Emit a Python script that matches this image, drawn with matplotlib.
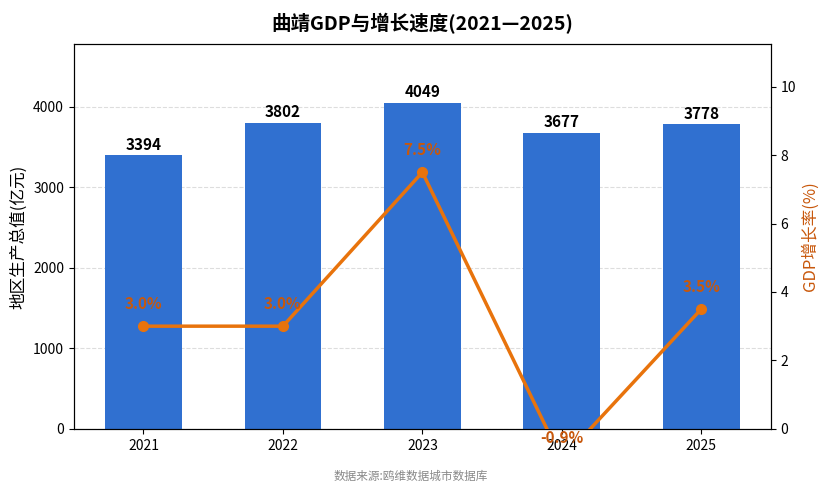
import matplotlib
matplotlib.use("Agg")
import matplotlib.pyplot as plt

plt.rcParams["font.family"] = ["Noto Sans CJK SC", "DejaVu Sans"]
plt.rcParams["axes.unicode_minus"] = False

BLUE = "#3070D0"; ORANGE = "#E8730C"; DARK_OR = "#C8580C"; GREY = "#888888"

years = ["2021", "2022", "2023", "2024", "2025"]
gdp = [3394, 3802, 4049, 3677, 3778]
growth = [3.0, 3.0, 7.5, -0.9, 3.5]

fig, ax = plt.subplots(figsize=(8.29, 4.94), dpi=100)
fig.subplots_adjust(left=0.089, right=0.930, top=0.911, bottom=0.132)

x = list(range(len(years)))
ax.bar(x, gdp, width=0.55, color=BLUE, zorder=2)
for xi, v in zip(x, gdp):
    ax.annotate(f"{v}", (xi, v), xytext=(0, 2), textcoords="offset points",
                ha="center", va="bottom", fontsize=11, fontweight="bold")
ax.set_xlim(-0.5, len(years) - 0.5)
ax.set_ylim(0, max(gdp) * 1.18)
ax.set_xticks(x)
ax.set_xticklabels(years, fontsize=10)
ax.tick_params(axis="y", labelsize=10)
ax.set_ylabel("地区生产总值(亿元)", fontsize=12)
ax.grid(axis="y", linestyle="--", color="#DDDDDD", lw=0.8, zorder=0)
ax.set_axisbelow(True)

ax2 = ax.twinx()
ax2.plot(x, growth, color=ORANGE, lw=2.5, marker="o", markersize=7, zorder=3)
for xi, g in zip(x, growth):
    ax2.annotate(f"{g:.1f}%", (xi, g), xytext=(0, 10), textcoords="offset points",
                 ha="center", va="bottom", fontsize=11, fontweight="bold",
                 color=DARK_OR, annotation_clip=False)
ax2.set_ylim(0, max(growth) * 1.5)
ax2.tick_params(axis="y", labelsize=10)
ax2.set_ylabel("GDP增长率(%)", fontsize=12, color=DARK_OR)

ax.set_title("曲靖GDP与增长速度(2021—2025)", fontsize=14, fontweight="bold", pad=10)
fig.text(0.495, 0.035, "数据来源:鸥维数据城市数据库", ha="center", va="center",
         fontsize=8.4, color=GREY)

fig.savefig("out.png", dpi=100)
